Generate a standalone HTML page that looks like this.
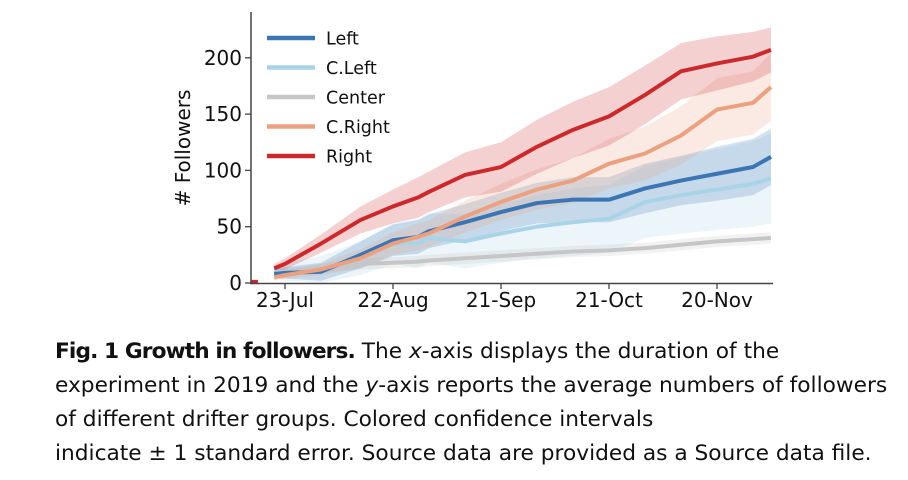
<!DOCTYPE html>
<html><head><meta charset="utf-8"><style>
body{margin:0;background:#fff;width:908px;height:480px;overflow:hidden;font-family:"DejaVu Sans",sans-serif}
#chart{position:absolute;left:0;top:0}
.cap{position:absolute;left:55px;top:335px;width:850px;font-size:21.7px;line-height:34px;color:#111;white-space:nowrap;font-family:"DejaVu Sans",sans-serif}
.cap b{font-weight:bold;letter-spacing:-0.9px}
</style></head><body>
<svg id="chart" width="908" height="320"></svg>
<div class="cap">
<div><b>Fig. 1 Growth in followers.</b> The <i>x</i>-axis displays the duration of the</div>
<div>experiment in 2019 and the <i>y</i>-axis reports the average numbers of followers</div>
<div>of different drifter groups. Colored confidence intervals</div>
<div>indicate ± 1 standard error. Source data are provided as a Source data file.</div>
</div>
<script>
const days=[-3,0,10,21,30,37,40,50,60,70,80,90,100,110,120,130,135];
const rightVals=[13,17,35,56,68,76,81,96,103,121,136,148,167,188,195,201,207];
const cRightVals=[5,7,12,22,35,41,44,59,72,83,91,106,115,131,154,160,174];
const leftVals=[8,9,10,25,38,41,46,54,63,71,74,74,84,91,97,103,112];
const cLeftVals=[10,10,12,22,35,35,40,37,44,50,54,57,72,78,83,88,93];
const centerVals=[8,10,13,17,18,19,20,22,24,26,28,29,31,34,37,39,40];
const rightSE=[4,5,8,12,15,18,18,20,22,24,25,26,26,25,24,22,20];
const cRightSE=[3,3,5,8,10,12,12,14,16,18,20,22,24,26,28,28,30];
const leftSE=[4,5,8,12,14,15,15,16,17,18,20,20,22,22,24,25,25];
const cLeftSE=[5,8,12,15,18,22,22,24,26,28,30,30,32,34,36,38,40];
const centerSE=[3,3,4,5,5,5,5,5,5,5,5,5,5,5,5,5,5];
const preDays=[-9.5,-7.5];
const preVals=[1,1];
const xTickDays=[0,30,60,90,120];
const xTickLabels=["23-Jul","22-Aug","21-Sep","21-Oct","20-Nov"];
const yTicks=[0,50,100,150,200];
const seriesNames=["Left","C.Left","Center","C.Right","Right"];

const X=d=>285+3.6*d, Y=v=>283-v*1.126;
const svg=document.getElementById('chart'),NS="http://www.w3.org/2000/svg";
function mk(t,a,p){const e=document.createElementNS(NS,t);for(const k in a)e.setAttribute(k,a[k]);(p||svg).appendChild(e);return e;}
const series=[
 {name:"C.Left",vals:cLeftVals,se:cLeftSE,c:"#a9d3e6"},
 {name:"Center",vals:centerVals,se:centerSE,c:"#c6c6c6"},
 {name:"Left",vals:leftVals,se:leftSE,c:"#3b75b3"},
 {name:"C.Right",vals:cRightVals,se:cRightSE,c:"#eba080"},
 {name:"Right",vals:rightVals,se:rightSE,c:"#cb2a2d"}];
series.forEach(s=>{
 let up=days.map((d,i)=>X(d)+","+Y(s.vals[i]+s.se[i]));
 let lo=days.map((d,i)=>X(d)+","+Y(Math.max(0,s.vals[i]-s.se[i]))).reverse();
 const b=mk('polygon',{points:up.concat(lo).join(" "),fill:s.c,opacity:0.22});
 
 
});
series.forEach(s=>{
 const l=mk('polyline',{points:days.map((d,i)=>X(d)+","+Y(s.vals[i])).join(" "),fill:"none",stroke:s.c,"stroke-width":4,"stroke-linejoin":"round"});
 
 
});
const pre=mk('polyline',{points:preDays.map((d,i)=>X(d)+","+Y(preVals[i])).join(" "),fill:"none",stroke:"#cb2a2d","stroke-width":4});


const ax=mk('g',{});


mk('line',{x1:251,y1:12,x2:251,y2:284,stroke:"#444","stroke-width":1.5},ax);
mk('line',{x1:250,y1:283.5,x2:773,y2:283.5,stroke:"#444","stroke-width":1.5},ax);
yTicks.forEach(v=>{
 mk('line',{x1:245,y1:Y(v),x2:251,y2:Y(v),stroke:"#444","stroke-width":1.3},ax);
 const t=mk('text',{x:242,y:Y(v)+7,"text-anchor":"end","font-size":20,fill:"#111"},ax);t.textContent=v;
 
 
});
xTickDays.forEach((d,i)=>{
 mk('line',{x1:X(d),y1:283,x2:X(d),y2:289,stroke:"#444","stroke-width":1.3},ax);
 const t=mk('text',{x:X(d),y:307,"text-anchor":"middle","font-size":20,fill:"#111"},ax);t.textContent=xTickLabels[i];
 
 
});
const yl=mk('text',{x:0,y:0,transform:"translate(190,148) rotate(-90)","text-anchor":"middle","font-size":20,fill:"#111"});
yl.textContent="# Followers";


const cols={"Left":"#3b75b3","C.Left":"#a9d3e6","Center":"#c6c6c6","C.Right":"#eba080","Right":"#cb2a2d"};
seriesNames.forEach((n,i)=>{
 const g=mk('g',{});
 
 
 const yy=38+29.5*i;
 mk('line',{x1:267,y1:yy,x2:315,y2:yy,stroke:cols[n],"stroke-width":4.5},g);
 const t=mk('text',{x:326,y:yy+6.5,"font-size":17.5,fill:"#111"},g);t.textContent=n;
});
</script>
</body></html>
